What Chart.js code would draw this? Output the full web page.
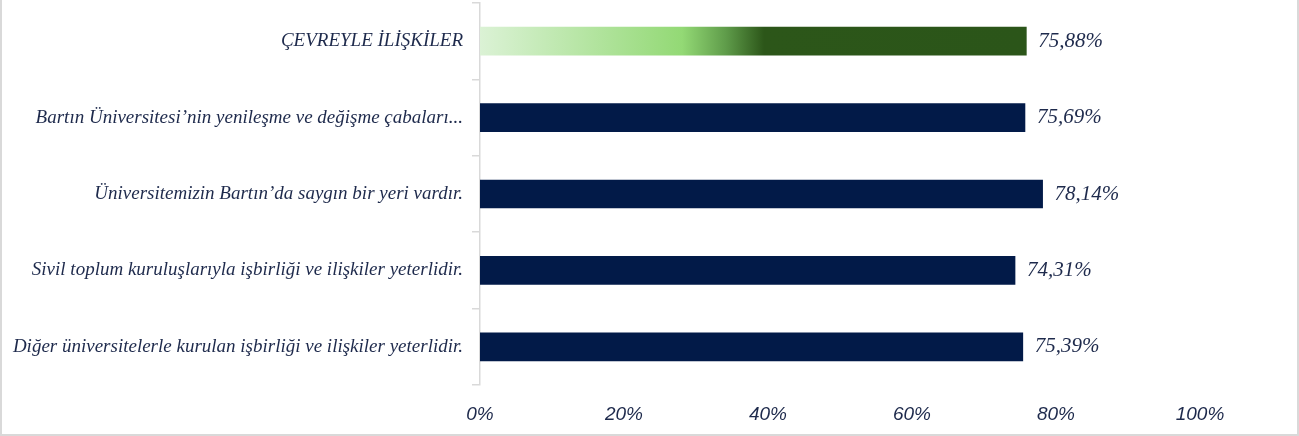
<!DOCTYPE html>
<html>
<head>
<meta charset="utf-8">
<script src="https://cdn.jsdelivr.net/npm/chart.js@4/dist/chart.umd.min.js"></script>
<style>
  body { margin: 0; background: #fff; }
  #wrap { width: 1299px; height: 436px; box-sizing: border-box; border: 2px solid #d9d9d9; border-top: 0; }
  #wrap canvas { display: block; }
</style>
</head>
<body>
<div id="wrap"><canvas id="chart" width="1295" height="434"></canvas></div>
<script>
// Data
const categories = [
    'ÇEVREYLE İLİŞKİLER',
    'Bartın Üniversitesi\u2019nin yenileşme ve değişme çabaları...',
    'Üniversitemizin Bartın\u2019da saygın bir yeri vardır.',
    'Sivil toplum kuruluşlarıyla işbirliği ve ilişkiler yeterlidir.',
    'Diğer üniversitelerle kurulan işbirliği ve ilişkiler yeterlidir.'
];
const values = [75.88, 75.69, 78.14, 74.31, 75.39];
const valueLabels = ['75,88%', '75,69%', '78,14%', '74,31%', '75,39%'];
const xTicks = [0, 20, 40, 60, 80, 100];

const NAVY = '#021a48';
const TEXT = '#1e2a4c';

// gradient for the summary bar (light green -> dark green)
function summaryGradient(ctx) {
    const chart = ctx.chart;
    const xs = chart.scales.x;
    if (!xs) return '#92d874';
    const x0 = xs.getPixelForValue(0);
    const x1 = xs.getPixelForValue(values[0]);
    if (!isFinite(x0) || !isFinite(x1) || x1 <= x0) return '#92d874';
    const g = chart.ctx.createLinearGradient(x0, 0, x1, 0);
    g.addColorStop(0, '#dbf2d5');
    g.addColorStop(0.37, '#93d975');
    g.addColorStop(0.45, '#5f9c4a');
    g.addColorStop(0.52, '#2c5619');
    g.addColorStop(1, '#2b5519');
    return g;
}

// value labels at the end of each bar
const valueLabelPlugin = {
    id: 'valueLabels',
    afterDatasetsDraw(chart) {
        const meta = chart.getDatasetMeta(0);
        const c = chart.ctx;
        c.save();
        c.fillStyle = TEXT;
        c.font = 'italic 21px "Liberation Serif", serif';
        c.textBaseline = 'middle';
        c.textAlign = 'left';
        meta.data.forEach((bar, i) => {
            c.fillText(valueLabels[i], bar.x + 12, bar.y);
        });
        c.restore();
    }
};

new Chart(document.getElementById('chart'), {
    type: 'bar',
    data: {
        labels: categories,
        datasets: [{
            data: values,
            backgroundColor: (ctx) => ctx.dataIndex === 0 ? summaryGradient(ctx) : NAVY,
            borderWidth: 0,
            barThickness: 28
        }]
    },
    options: {
        indexAxis: 'y',
        responsive: false,
        animation: false,
        layout: { padding: { top: 3, right: 97, left: 0, bottom: 0 } },
        plugins: {
            legend: { display: false },
            tooltip: { enabled: false }
        },
        scales: {
            x: {
                min: 0,
                max: 100,
                afterBuildTicks: (scale) => { scale.ticks = xTicks.map(v => ({ value: v })); },
                afterFit: (scale) => { scale.height = 49; scale.paddingLeft = 0; scale.paddingRight = 0; },
                grid: { display: false },
                border: { display: false },
                ticks: {
                    color: TEXT,
                    font: { family: '"Liberation Sans Narrow", "Liberation Sans", sans-serif', style: 'italic', size: 19 },
                    padding: 10,
                    callback: (v) => v + '%'
                }
            },
            y: {
                afterFit: (scale) => { scale.width = 478; scale.paddingTop = 0; scale.paddingBottom = 0; },
                grid: {
                    drawOnChartArea: false,
                    drawTicks: true,
                    tickLength: 8,
                    color: '#d9d9d9',
                    lineWidth: 1.5
                },
                border: { display: true, color: '#d9d9d9', width: 1.5 },
                ticks: {
                    color: TEXT,
                    font: { family: '"Liberation Serif", serif', style: 'italic', size: 19 },
                    padding: 9
                }
            }
        }
    },
    plugins: [valueLabelPlugin]
});
</script>
</body>
</html>
